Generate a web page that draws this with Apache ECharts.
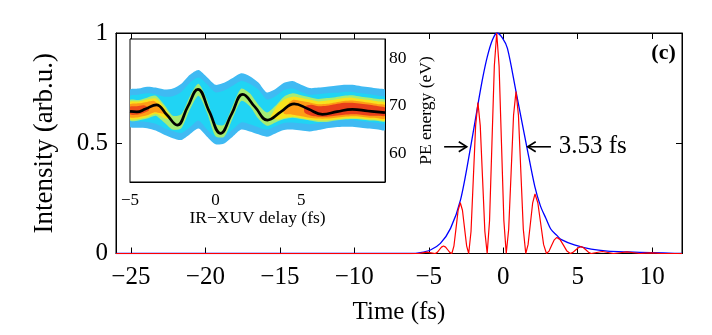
<!DOCTYPE html>
<html><head><meta charset="utf-8">
<script src="https://cdn.jsdelivr.net/npm/echarts@6/dist/echarts.min.js"></script>
<style>html,body{margin:0;padding:0;background:#fff}#c{width:712px;height:335px}</style>
</head><body><div id="c"></div>
<script>
// ---------- main panel ----------
const timeTicks = [-25, -20, -15, -10, -5, 0, 5, 10];
const intensityTicks = [0, 0.5, 1];
// blue envelope [time fs, intensity]
const envelope = [[-26,0],[-6.2,0],[-5.57,0.004],[-4.89,0.016],[-4.22,0.046],[-3.54,0.114],[-2.87,0.243],
  [-2.19,0.484],[-1.67,0.688],[-1.37,0.80],[-1.07,0.893],[-0.73,0.968],[-0.42,1.0],[-0.06,0.978],[0.28,0.93],
  [0.84,0.74],[1.2,0.615],[1.58,0.484],[2.12,0.303],[2.5,0.215],[2.86,0.16],[3.2,0.11],[3.6,0.082],[3.87,0.064],
  [4.77,0.039],[5.9,0.02],[7.0,0.011],[8.4,0.007],[9.95,0.004],[11.5,0.001],[12,0]];
// red oscillating intensity [time fs, intensity]
const intensity = [[-26,0],[-5.7,0],[-5.42,0.003],[-5.13,0.006],[-4.85,0.003],
  [-4.57,0],[-4.43,0.005],[-4.29,0.017],[-4.15,0.029],[-4.01,0.034],[-3.87,0.029],[-3.73,0.017],[-3.59,0.005],
  [-3.45,0],[-3.31,0.035],[-3.17,0.115],[-3.03,0.196],[-2.885,0.23],[-2.74,0.196],[-2.60,0.115],[-2.46,0.035],
  [-2.32,0],[-2.165,0.10],[-2.01,0.34],[-1.855,0.58],[-1.70,0.685],[-1.545,0.58],[-1.39,0.34],[-1.235,0.10],
  [-1.08,0],[-0.92,0.15],[-0.76,0.5],[-0.60,0.85],[-0.44,1.0],[-0.28,0.85],[-0.12,0.5],[0.04,0.15],
  [0.2,0],[0.364,0.11],[0.527,0.367],[0.691,0.627],[0.855,0.734],[1.019,0.627],[1.183,0.367],[1.346,0.11],
  [1.51,0],[1.665,0.04],[1.82,0.135],[1.975,0.23],[2.13,0.27],[2.32,0.23],[2.515,0.135],[2.71,0.04],
  [2.9,0],[3.075,0.011],[3.25,0.037],[3.425,0.062],[3.6,0.073],[3.825,0.062],[4.05,0.037],[4.275,0.011],
  [4.5,0],[4.68,0.005],[4.86,0.016],[5.04,0.026],[5.22,0.031],[5.39,0.026],[5.56,0.016],[5.73,0.005],
  [5.9,0],[6.275,0.0045],[6.65,0.009],[7.025,0.0045],[7.4,0],[7.85,0.0035],[8.3,0.007],[8.75,0.0035],
  [9.2,0],[9.55,0.0015],[9.9,0.003],[10.25,0.0015],[10.6,0],[12,0]];
// FWHM arrows [tail time, tip time, intensity]
const fwhmArrows = [[-3.97, -2.45, 0.484], [3.2, 1.64, 0.484]];
const fwhmText = [3.72, 0.484, '3.53 fs'];
const panelTag = [10.76, 0.909, '(c)'];

// ---------- inset ----------
const delayTicks = [-5, 0, 5];
const energyTicks = [60, 70, 80];
// black centroid curve [delay fs, energy eV]
const centroid = [[-5,68.8],[-4.6,68.7],[-4.1,69.3],[-3.46,70.2],[-2.85,68.1],[-2.24,65.95],[-1.64,69.7],
  [-1.03,73.45],[-0.37,68.8],[0.29,64.2],[0.94,68.3],[1.59,72.4],[2.31,69.7],[3.03,67.0],[3.81,68.7],
  [4.59,70.4],[5.42,69.3],[6.24,68.2],[7.1,68.75],[7.99,69.25],[8.9,68.9],[9.9,68.55]];
// spectrogram colour bands [delay, low eV, high eV]
const bandLightBlue = [[-5,65.6,73.3],[-4.5,65.4,73.6],[-4,65.3,74.0],[-3.5,64.8,73.8],[-3,63.9,73.4],[-2.5,63.2,73.6],
  [-2,62.8,74.6],[-1.5,64.0,76.5],[-1,65.2,77.5],[-0.5,63.5,76.0],[0,61.9,74.4],[0.5,62.1,74.8],[1,63.5,75.8],
  [1.5,65.0,76.8],[2,64.6,76.2],[2.5,64.0,74.9],[3,63.5,72.8],[3.5,64.2,73.5],[4,64.9,74.8],[4.5,65.0,75.2],
  [5,64.8,74.4],[5.5,64.6,73.7],[6,64.9,73.8],[6.5,65.3,74.0],[7,65.5,74.2],[7.5,65.6,74.4],[8,65.6,74.4],
  [8.5,65.4,74.1],[9,65.2,73.9],[9.5,65.0,73.6],[9.9,64.9,73.3]];
const bandCyan = [[-5,66.9,72.0],[-4.5,66.7,72.3],[-4,66.6,72.6],[-3.5,66.2,72.4],[-3,65.3,71.9],[-2.5,64.7,72.0],
  [-2,64.3,72.9],[-1.5,65.5,74.8],[-1,66.9,75.9],[-0.5,65.0,74.5],[0,63.4,72.8],[0.5,63.6,73.2],[1,65.0,74.2],
  [1.5,66.5,75.2],[2,66.1,74.6],[2.5,65.5,73.4],[3,65.0,71.3],[3.5,65.7,72.0],[4,66.4,73.3],[4.5,66.5,73.6],
  [5,66.3,72.9],[5.5,66.1,72.3],[6,66.3,72.4],[6.5,66.7,72.6],[7,66.9,72.7],[7.5,67.0,72.9],[8,67.0,72.9],
  [8.5,66.8,72.6],[9,66.6,72.4],[9.5,66.4,72.1],[9.9,66.3,71.8]];
const bandGreen = [[-5,66.9,71.2],[-4.5,66.9,71.2],[-4,67.3,71.7],[-3.5,67.9,72.1],[-3,66.5,70.2],[-2.5,65.0,67.9],
  [-2,65.3,68.2],[-1.5,69.2,72.0],[-1,72.1,74.6],[-0.5,68.6,71.2],[0,63.6,66.2],[0.5,63.5,66.0],[1,67.4,70.0],
  [1.5,71.0,73.6],[2,69.9,72.6],[2.5,67.3,70.2],[3,65.8,68.6],[3.5,66.5,70.0],[4,67.2,71.9],[4.5,67.5,72.6],
  [5,67.2,72.2],[5.5,66.9,71.8],[6,66.6,71.4],[6.5,66.6,71.6],[7,66.9,71.8],[7.5,67.1,72.1],[8,67.2,72.2],
  [8.5,67.1,71.9],[9,66.9,71.7],[9.5,66.8,71.4],[9.9,66.7,71.2]];
const bandYellowLeft = [[-5,67.2,70.8],[-4.5,67.2,70.9],[-4,67.6,71.3],[-3.5,68.3,71.5],[-3,67.4,69.7],[-2.6,67.3,67.5]];
const bandYellowRight = [[3.2,67.3,67.6],[3.6,67.1,70.0],[4,67.4,71.3],[4.5,67.7,71.9],[5,67.4,71.7],[5.5,67.1,71.3],
  [6,66.9,70.9],[6.5,66.9,71.1],[7,67.1,71.3],[7.5,67.3,71.6],[8,67.4,71.7],[8.5,67.3,71.4],[9,67.1,71.2],
  [9.5,67.0,70.9],[9.9,66.9,70.7]];
const bandOrangeLeft = [[-5,67.6,70.3],[-4.5,67.6,70.5],[-4,68.0,70.8],[-3.6,68.6,71.0],[-3.2,68.4,69.8],[-2.9,68.2,68.5]];
const bandOrangeRight = [[4.0,68.3,69.3],[4.5,68.1,71.2],[5,67.8,71.0],[5.5,67.5,70.7],[6,67.3,70.3],[6.5,67.3,70.4],
  [7,67.5,70.7],[7.5,67.7,71.0],[8,67.8,71.1],[8.5,67.7,70.9],[9,67.5,70.6],[9.5,67.4,70.3],[9.9,67.3,70.1]];
const bandRedLeft = [[-5,68.2,69.8],[-4.6,68.1,69.9],[-4.2,68.5,70.1],[-3.9,69.0,69.6]];
const bandRedRight = [[5.2,68.6,69.8],[5.6,67.9,70.2],[6,67.7,69.9],[6.5,67.7,70.0],[7,67.9,70.3],[7.5,68.1,70.6],
  [8,68.2,70.6],[8.5,68.1,70.4],[9,67.9,70.2],[9.5,67.9,69.9],[9.9,67.9,69.6]];

const bands = [
  {pts: bandLightBlue, color: '#3fbaf3'},
  {pts: bandCyan, color: '#20d4f4'},
  {pts: bandGreen, color: '#a6ec74'},
  {pts: bandYellowLeft, color: '#f9e21e'},
  {pts: bandYellowRight, color: '#f9e21e'},
  {pts: bandOrangeLeft, color: '#ff9c16'},
  {pts: bandOrangeRight, color: '#ff9c16'},
  {pts: bandRedLeft, color: '#ee4d18'},
  {pts: bandRedRight, color: '#e8401a'}
];

const SERIF = 'Liberation Serif';
const minus = v => (v < 0 ? '\u2212' + Math.abs(v) : String(v));
const txt = {color: '#000', fontFamily: SERIF};

const chart = echarts.init(document.getElementById('c'), null, {renderer: 'canvas'});
chart.setOption({
  animation: false,
  backgroundColor: '#fff',
  grid: [
    {left: 116, right: 30, top: 33, bottom: 81.5, show: true, borderColor: '#000', borderWidth: 1, backgroundColor: 'transparent'},
    {left: 130, top: 39, width: 255, height: 143, show: true, borderColor: '#000', borderWidth: 1, backgroundColor: '#fff', z: 3}
  ],
  xAxis: [
    {type: 'value', gridIndex: 0, min: -26, max: 12, position: 'bottom',
     axisLine: {show: true, onZero: false, lineStyle: {color: '#000', width: 1}},
     axisTick: {show: true, inside: true, length: 6, customValues: timeTicks, lineStyle: {color: '#000'}},
     axisLabel: Object.assign({customValues: timeTicks, formatter: minus, fontSize: 25, margin: 11}, txt),
     splitLine: {show: false},
     name: 'Time (fs)', nameLocation: 'middle', nameGap: 46,
     nameTextStyle: Object.assign({fontSize: 25}, txt)},
    {type: 'value', gridIndex: 0, min: -26, max: 12, position: 'top',
     axisLine: {show: true, onZero: false, lineStyle: {color: '#000'}},
     axisTick: {show: true, inside: true, length: 6, customValues: timeTicks, lineStyle: {color: '#000'}},
     axisLabel: {show: false}, splitLine: {show: false}},
    {type: 'value', gridIndex: 1, min: -5, max: 9.9, position: 'bottom',
     axisLine: {show: true, onZero: false, lineStyle: {color: '#000'}},
     axisTick: {show: false},
     axisLabel: Object.assign({customValues: delayTicks, formatter: minus, fontSize: 17, margin: 10}, txt),
     splitLine: {show: false},
     name: 'IR\u2212XUV delay (fs)', nameLocation: 'middle', nameGap: 22,
     nameTextStyle: Object.assign({fontSize: 17.5}, txt)}
  ],
  yAxis: [
    {type: 'value', gridIndex: 0, min: 0, max: 1, interval: 0.5, position: 'left',
     axisLine: {show: true, onZero: false, lineStyle: {color: '#000'}},
     axisTick: {show: true, inside: true, length: 6, lineStyle: {color: '#000'}},
     axisLabel: Object.assign({fontSize: 25, margin: 8}, txt),
     splitLine: {show: false},
     name: 'Intensity (arb.u.)', nameLocation: 'middle', nameGap: 58,
     nameTextStyle: Object.assign({fontSize: 27}, txt)},
    {type: 'value', gridIndex: 0, min: 0, max: 1, interval: 0.5, position: 'right',
     axisLine: {show: true, onZero: false, lineStyle: {color: '#000'}},
     axisTick: {show: true, inside: true, length: 6, lineStyle: {color: '#000'}},
     axisLabel: {show: false}, splitLine: {show: false}},
    {type: 'value', gridIndex: 1, min: 54, max: 84, position: 'right',
     axisLine: {show: true, onZero: false, lineStyle: {color: '#000'}},
     axisTick: {show: true, inside: true, length: 4, customValues: energyTicks, lineStyle: {color: '#000'}},
     axisLabel: Object.assign({customValues: energyTicks, fontSize: 17.5, margin: 4}, txt),
     splitLine: {show: false},
     name: 'PE energy (eV)', nameLocation: 'middle', nameGap: 32,
     nameTextStyle: Object.assign({fontSize: 17.5}, txt)},
    {type: 'value', gridIndex: 1, min: 54, max: 84, position: 'left',
     axisLine: {show: true, onZero: false, lineStyle: {color: '#000'}},
     axisTick: {show: true, inside: true, length: 4, customValues: energyTicks, lineStyle: {color: '#000'}},
     axisLabel: {show: false}, splitLine: {show: false}}
  ],
  series: [
    {type: 'line', xAxisIndex: 0, yAxisIndex: 0, data: envelope, showSymbol: false, symbol: 'none',
     smooth: 0.3, lineStyle: {color: '#0000ff', width: 1.3}, z: 2},
    {type: 'line', xAxisIndex: 0, yAxisIndex: 0, data: intensity, showSymbol: false, symbol: 'none',
     lineStyle: {color: '#ff0000', width: 1.2}, z: 3},
    // FWHM arrows (open heads)
    {type: 'custom', xAxisIndex: 0, yAxisIndex: 0, z: 4,
     data: fwhmArrows.map(a => [a[0], a[2]]),
     renderItem: function (params, api) {
       const a = fwhmArrows[params.dataIndex];
       const p0 = api.coord([a[0], a[2]]);
       const p1 = api.coord([a[1], a[2]]);
       const dir = p1[0] > p0[0] ? 1 : -1;
       const hl = 8, hw = 5;
       const style = {stroke: '#000', lineWidth: 1.6, fill: null};
       return {type: 'group', children: [
         {type: 'line', shape: {x1: p0[0], y1: p0[1], x2: p1[0], y2: p1[1]}, style: style},
         {type: 'polyline', shape: {points: [[p1[0] - dir * hl, p1[1] - hw], [p1[0], p1[1]], [p1[0] - dir * hl, p1[1] + hw]]}, style: style}
       ]};
     }},
    {type: 'scatter', xAxisIndex: 0, yAxisIndex: 0, symbolSize: 0, z: 4, silent: true,
     itemStyle: {opacity: 1},
     data: [
       {value: [fwhmText[0], fwhmText[1]], label: {show: true, formatter: fwhmText[2], position: 'right', distance: 0,
         color: '#000', fontFamily: SERIF, fontSize: 25}},
       {value: [panelTag[0], panelTag[1]], label: {show: true, formatter: panelTag[2], position: 'inside',
         color: '#000', fontFamily: SERIF, fontWeight: 'bold', fontSize: 22}}
     ]},
    {type: 'custom', xAxisIndex: 2, yAxisIndex: 2, z: 5, clip: true,
     data: bands.map(() => [0, 70]),
     renderItem: function (params, api) {
       const b = bands[params.dataIndex];
       const top = b.pts.map(p => api.coord([p[0], p[2]]));
       const bottom = b.pts.slice().reverse().map(p => api.coord([p[0], p[1]]));
       return {type: 'polygon', shape: {points: top.concat(bottom), smooth: 0.25}, style: {fill: b.color}};
     }},
    {type: 'line', xAxisIndex: 2, yAxisIndex: 2, data: centroid, showSymbol: false, symbol: 'none',
     smooth: 0.45, lineStyle: {color: '#000', width: 2.7}, z: 6}
  ]
});
</script></body></html>
